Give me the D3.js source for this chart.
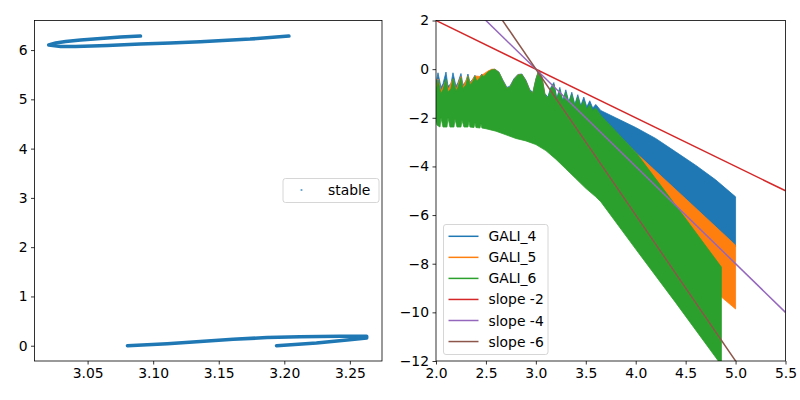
<!DOCTYPE html>
<html>
<head>
<meta charset="utf-8">
<script src="https://cdn.jsdelivr.net/npm/d3@7"></script>
<style>
  html, body { margin: 0; padding: 0; background: #fff; }
  svg { display: block; font-family: "DejaVu Sans", sans-serif; }
</style>
</head>
<body>
<svg id="chart" width="800" height="400"></svg>
<script>
// ---------------- DATA ----------------
// Left panel: "stable" orbit points (x, angle), traced along the dense point bands
const stableTop = [
  [3.0903, 6.284], [3.0751, 6.264], [3.0599, 6.234], [3.0447, 6.203], [3.0333, 6.173],
  [3.0257, 6.142], [3.0204, 6.102], [3.0295, 6.071], [3.0409, 6.071], [3.0652, 6.092],
  [3.0903, 6.122], [3.1131, 6.142], [3.1359, 6.168], [3.1739, 6.223], [3.2035, 6.284]
];
const stableBottom = [
  [3.0804, 0.000], [3.1108, 0.041], [3.1359, 0.087], [3.1610, 0.132], [3.1868, 0.166],
  [3.2119, 0.182], [3.2423, 0.193], [3.2628, 0.193], [3.2628, 0.156], [3.2498, 0.122],
  [3.2245, 0.055], [3.1941, 0.000]
];
const leftXTicks = [3.05, 3.10, 3.15, 3.20, 3.25];
const leftYTicks = [0, 1, 2, 3, 4, 5, 6];
const leftLegend = ["stable"];

// Right panel: envelopes (upper / lower edges) of the dense oscillating GALI curves (log10)
const gali4Upper = [
  [2.00,-0.6],[2.02,-0.15],[2.05,-0.75],[2.07,-0.6],[2.10,-0.12],[2.12,-0.7],[2.15,-0.6],[2.17,-0.15],
  [2.20,-0.7],[2.22,-0.55],[2.25,-0.18],[2.27,-0.65],[2.30,-0.5],[2.32,-0.2],[2.34,-0.55],[2.37,-0.4],
  [2.39,-0.25],[2.41,-0.45],[2.44,-0.3],[2.46,-0.2],[2.48,-0.3],[2.52,-0.1],[2.56,-0.02],[2.59,0.0],
  [2.63,-0.12],[2.67,-0.45],[2.71,-0.75],[2.74,-0.7],[2.78,-0.4],[2.82,-0.22],[2.86,-0.2],[2.90,-0.45],
  [2.94,-0.85],[2.97,-0.95],[3.00,-0.4],[3.03,-0.03],[3.06,-0.3],[3.09,-1.0],[3.12,-1.15],[3.15,-0.75],
  [3.18,-0.55],[3.21,-1.2],[3.24,-0.75],[3.27,-1.3],[3.30,-0.85],[3.33,-1.35],[3.36,-0.95],[3.39,-1.45],
  [3.42,-1.05],[3.45,-1.5],[3.48,-1.15],[3.51,-1.55],[3.54,-1.3],[3.57,-1.6],[3.60,-1.45],[3.65,-1.7],
  [3.80,-2.0],[4.00,-2.4],[4.20,-2.85],[4.40,-3.4],[4.60,-3.95],[4.80,-4.55],[5.00,-5.25]
];
const gali4Lower = [
  [2.00,-1.6],[2.60,-1.8],[3.00,-2.4],[3.65,-4.0],[4.00,-5.0],[4.50,-6.0],[5.00,-7.3]
];
const gali5Upper = [
  [2.00,-0.75],[2.02,-0.4],[2.05,-0.9],[2.10,-0.45],[2.12,-0.85],[2.17,-0.4],[2.20,-0.85],[2.25,-0.3],
  [2.27,-0.75],[2.32,-0.28],[2.34,-0.6],[2.39,-0.28],[2.44,-0.3],[2.52,-0.08],[2.56,0.0],[2.59,-0.01],
  [2.63,-0.14],[2.67,-0.5],[2.71,-0.8],[2.74,-0.75],[2.78,-0.45],[2.82,-0.24],[2.86,-0.22],[2.90,-0.5],
  [2.94,-0.9],[2.97,-1.0],[3.00,-0.45],[3.03,-0.05],[3.06,-0.35],[3.09,-1.05],[3.12,-1.2],[3.20,-1.4],
  [3.40,-1.7],[3.65,-2.0],[3.80,-2.6],[4.01,-3.47],[4.50,-5.33],[5.00,-7.24]
];
const gali5Lower = [
  [2.00,-1.8],[2.60,-2.0],[3.00,-2.6],[3.65,-4.6],[4.00,-6.3],[4.50,-7.9],[4.858,-9.37],[5.00,-9.86]
];
const gali6Upper = [
  [2.00,-0.9],[2.02,-0.45],[2.05,-1.0],[2.07,-0.85],[2.10,-0.4],[2.12,-0.95],[2.15,-0.8],[2.17,-0.4],
  [2.20,-0.9],[2.22,-0.75],[2.25,-0.35],[2.27,-0.8],[2.30,-0.65],[2.32,-0.3],[2.34,-0.65],[2.37,-0.5],
  [2.39,-0.3],[2.41,-0.5],[2.44,-0.35],[2.46,-0.25],[2.48,-0.3],[2.52,-0.12],[2.56,-0.03],[2.59,-0.02],
  [2.63,-0.14],[2.67,-0.5],[2.71,-0.8],[2.74,-0.75],[2.78,-0.45],[2.82,-0.25],[2.86,-0.22],[2.90,-0.5],
  [2.94,-0.9],[2.97,-1.0],[3.00,-0.45],[3.03,-0.05],[3.06,-0.35],[3.09,-1.05],[3.12,-1.2],[3.15,-0.8],
  [3.18,-0.62],[3.21,-1.25],[3.24,-0.85],[3.27,-1.35],[3.30,-0.95],[3.33,-1.4],[3.36,-1.05],[3.39,-1.5],
  [3.42,-1.15],[3.45,-1.55],[3.48,-1.3],[3.51,-1.65],[3.54,-1.45],[3.57,-1.7],[3.60,-1.6],[3.65,-1.9],
  [3.80,-2.55],[4.01,-3.47],[4.45,-5.87],[4.858,-8.14]
];
const gali6Lower = [
  [2.00,-2.0],[2.01,-2.3],[2.04,-2.38],[2.05,-2.0],[2.07,-2.38],[2.11,-2.38],[2.12,-2.0],[2.14,-2.38],
  [2.18,-2.38],[2.19,-2.05],[2.21,-2.38],[2.25,-2.38],[2.26,-2.1],[2.28,-2.38],[2.32,-2.38],[2.33,-2.15],
  [2.34,-2.38],[2.38,-2.4],[2.39,-2.2],[2.40,-2.4],[2.44,-2.42],[2.45,-2.25],[2.46,-2.42],[2.50,-2.45],
  [2.60,-2.55],[2.70,-2.7],[2.80,-2.85],[2.90,-2.95],[3.00,-3.1],[3.10,-3.35],[3.20,-3.7],[3.30,-4.1],
  [3.40,-4.5],[3.50,-4.9],[3.60,-5.25],[3.65,-5.45],[4.00,-7.4],[4.40,-9.6],[4.82,-11.96],[4.858,-12.2]
];
// Reference slope lines (endpoints)
const slopeX = [2.0, 5.5];
const slope2Y = [2, -5];
const slope4Y = [4, -10];
const slope6Y = [6, -15];
const rightXTicks = [2.0, 2.5, 3.0, 3.5, 4.0, 4.5, 5.0, 5.5];
const rightYTicks = [2, 0, -2, -4, -6, -8, -10, -12];
const rightLegend = ["GALI_4", "GALI_5", "GALI_6", "slope -2", "slope -4", "slope -6"];
const colors = ["#1f77b4", "#ff7f0e", "#2ca02c", "#d62728", "#9467bd", "#8c564b"];

// ---------------- DRAW ----------------
const svg = d3.select("#chart");
const FONT = 13.9;
const fmtMinus = s => s.replace("-", "\u2212");

function drawAxes(g, x, y, xt, yt, xfmt, yfmt, box) {
  const xa = g.append("g").attr("transform", `translate(0,${box.b})`)
    .call(d3.axisBottom(x).tickValues(xt).tickFormat(d => fmtMinus(xfmt(d))).tickSizeOuter(0).tickSize(3.5).tickPadding(3.5));
  const ya = g.append("g").attr("transform", `translate(${box.l},0)`)
    .call(d3.axisLeft(y).tickValues(yt).tickFormat(d => fmtMinus(yfmt(d))).tickSizeOuter(0).tickSize(3.5).tickPadding(3.5));
  [xa, ya].forEach(a => {
    a.select(".domain").remove();
    a.selectAll("line").attr("stroke", "#000").attr("stroke-width", 0.8);
    a.selectAll("text").attr("font-size", FONT).attr("fill", "#000").attr("font-family", "DejaVu Sans");
  });
  g.append("rect").attr("x", box.l).attr("y", box.t).attr("width", box.r - box.l).attr("height", box.b - box.t)
    .attr("fill", "none").attr("stroke", "#000").attr("stroke-width", 0.8);
}

// ---- Left panel ----
const LB = { l: 34.5, r: 382, t: 20.5, b: 361 };
const xL = d3.scaleLinear().domain([3.0095, 3.2745]).range([LB.l, LB.r]);
const yL = d3.scaleLinear().domain([-0.31, 6.6]).range([LB.b, LB.t]);
const gL = svg.append("g");
const lineL = d3.line().x(d => xL(d[0])).y(d => yL(d[1]));
[stableTop, stableBottom].forEach(arr => {
  gL.append("path").attr("d", lineL(arr)).attr("fill", "none")
    .attr("stroke", colors[0]).attr("stroke-width", 3.6).attr("stroke-linejoin", "round").attr("stroke-linecap", "round");
});
drawAxes(gL, xL, yL, leftXTicks, leftYTicks, d3.format(".2f"), d3.format("d"), LB);
// left legend
const legL = gL.append("g");
legL.append("rect").attr("x", 283).attr("y", 178.5).attr("width", 96).attr("height", 24).attr("rx", 2.5)
  .attr("fill", "#fff").attr("fill-opacity", 0.8).attr("stroke", "#cccccc").attr("stroke-width", 0.8);
legL.append("circle").attr("cx", 301.5).attr("cy", 190).attr("r", 1.1).attr("fill", colors[0]).attr("opacity", 0.7);
legL.append("text").attr("x", 328).attr("y", 190).attr("dy", "0.36em").attr("font-size", FONT).text(leftLegend[0]);

// ---- Right panel ----
const RB = { l: 436, r: 785.5, t: 20.5, b: 361 };
const xR = d3.scaleLinear().domain([2, 5.5]).range([RB.l, RB.r]);
const yR = d3.scaleLinear().domain([-12, 2]).range([RB.b, RB.t]);
const gR = svg.append("g");
svg.append("defs").append("clipPath").attr("id", "clipR")
  .append("rect").attr("x", RB.l).attr("y", RB.t).attr("width", RB.r - RB.l).attr("height", RB.b - RB.t);
const plotR = gR.append("g").attr("clip-path", "url(#clipR)");
const lineR = d3.line().x(d => xR(d[0])).y(d => yR(d[1]));
[[gali4Upper, gali4Lower], [gali5Upper, gali5Lower], [gali6Upper, gali6Lower]].forEach(([up, lo], i) => {
  const poly = up.concat(lo.slice().reverse());
  plotR.append("path").attr("d", lineR(poly) + "Z").attr("fill", colors[i])
    .attr("stroke", colors[i]).attr("stroke-width", 0.8).attr("stroke-linejoin", "round");
});
[slope2Y, slope4Y, slope6Y].forEach((ys, i) => {
  plotR.append("path").attr("d", lineR(slopeX.map((x, j) => [x, ys[j]])))
    .attr("fill", "none").attr("stroke", colors[3 + i]).attr("stroke-width", 1.5);
});
drawAxes(gR, xR, yR, rightXTicks, rightYTicks, d3.format(".1f"), d3.format("d"), RB);
// right legend
const legR = gR.append("g");
legR.append("rect").attr("x", 443.5).attr("y", 224.5).attr("width", 104.5).attr("height", 130).attr("rx", 2.5)
  .attr("fill", "#fff").attr("fill-opacity", 0.8).attr("stroke", "#cccccc").attr("stroke-width", 0.8);
rightLegend.forEach((name, i) => {
  const yy = 236.3 + i * 21.05;
  legR.append("line").attr("x1", 448.5).attr("x2", 478.5).attr("y1", yy).attr("y2", yy)
    .attr("stroke", colors[i]).attr("stroke-width", 1.5);
  legR.append("text").attr("x", 488.5).attr("y", yy).attr("dy", "0.36em").attr("font-size", FONT).text(name);
});
</script>
</body>
</html>
